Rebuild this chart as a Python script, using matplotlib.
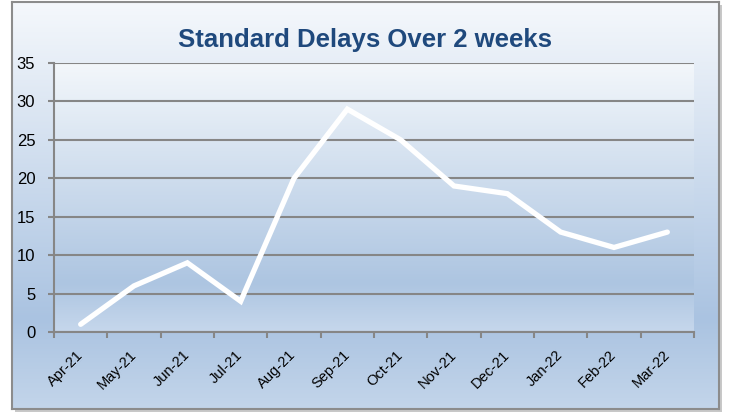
import numpy as np
import matplotlib.pyplot as plt
from matplotlib.colors import LinearSegmentedColormap
from matplotlib.patches import Rectangle

months = ['Apr-21', 'May-21', 'Jun-21', 'Jul-21', 'Aug-21', 'Sep-21',
          'Oct-21', 'Nov-21', 'Dec-21', 'Jan-22', 'Feb-22', 'Mar-22']
delays = [1, 6, 9, 4, 20, 29, 25, 19, 18, 13, 11, 13]
y_ticks = [0, 5, 10, 15, 20, 25, 30, 35]

plt.rcParams['font.family'] = ['Liberation Sans', 'DejaVu Sans']

W, H = 729, 412
fig = plt.figure(figsize=(W / 100, H / 100), dpi=100, facecolor='white')

# chart area gradient box with shadow
bx0, by0, bx1, by1 = 12 / W, 1 - 409 / H, 719 / W, 1 - 2 / H
shadow = Rectangle((bx0 + 3 / W, by0 - 3 / H), bx1 - bx0, by1 - by0,
                   transform=fig.transFigure, facecolor='#c8c8c8',
                   edgecolor='none', zorder=-5)
fig.patches.append(shadow)
bg = fig.add_axes([bx0, by0, bx1 - bx0, by1 - by0], zorder=0)
outer_cmap = LinearSegmentedColormap.from_list(
    'outer', [(0, '#F5F8FC'), (0.78, '#AAC3E1'), (1, '#C3D5EA')])
bg.imshow(np.linspace(0, 1, 256).reshape(-1, 1), aspect='auto', cmap=outer_cmap,
          extent=[0, 1, 0, 1], origin='upper')
bg.set_xlim(0, 1)
bg.set_ylim(0, 1)
bg.set_xticks([])
bg.set_yticks([])
for s in bg.spines.values():
    s.set_color('#8C8C8C')
    s.set_linewidth(1.5)

# plot area
ax = fig.add_axes([54 / W, 1 - 332 / H, 640 / W, 269 / H], zorder=1)
ax.patch.set_visible(False)
plot_cmap = LinearSegmentedColormap.from_list(
    'plot', [(0, '#F3F7FB'), (0.82, '#ADC5E1'), (1, '#C6D7EC')])
ax.imshow(np.linspace(0, 1, 256).reshape(-1, 1), aspect='auto', cmap=plot_cmap,
          extent=[-0.5, 11.5, 0, 35], origin='upper', zorder=0)

x = np.arange(len(months))
ax.plot(x, delays, color='white', linewidth=3.8, solid_capstyle='round',
        solid_joinstyle='miter', zorder=3)

ax.set_xlim(-0.5, 11.5)
ax.set_ylim(0, 35)
ax.set_yticks(y_ticks)
ax.set_yticklabels([str(v) for v in y_ticks], fontsize=12)
ax.yaxis.grid(True, color='#868686', linewidth=1.5)
ax.set_axisbelow(False)
for gl in ax.get_ygridlines():
    gl.set_zorder(1)

ax.set_xticks(x)
ax.set_xticklabels(months, fontsize=10.5, rotation=45, ha='right',
                   va='center', rotation_mode='anchor')
ax.set_xticks(np.arange(-0.5, 12, 1), minor=True)
ax.tick_params(axis='x', which='major', length=0, pad=15)
ax.tick_params(axis='x', which='minor', length=4, width=1.5, color='#868686')
ax.tick_params(axis='y', length=4.5, width=1.5, color='#868686', pad=9)

for side in ['top', 'right']:
    ax.spines[side].set_visible(False)
for side in ['left', 'bottom']:
    ax.spines[side].set_color('#868686')
    ax.spines[side].set_linewidth(1.5)

fig.text(0.5, 1 - 40 / H, 'Standard Delays Over 2 weeks', ha='center',
         va='center', fontsize=18.5, fontweight='bold', color='#1F497D')

fig.savefig('out.png', dpi=100)
